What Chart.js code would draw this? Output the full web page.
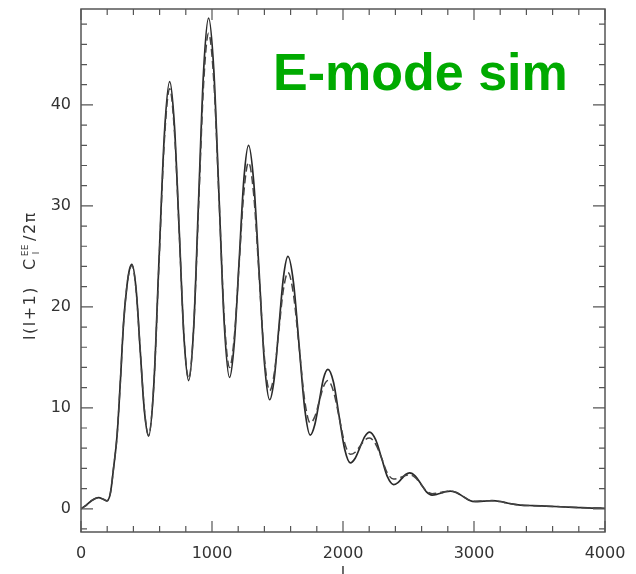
<!DOCTYPE html>
<html>
<head>
<meta charset="utf-8">
<script src="https://cdn.jsdelivr.net/npm/chart.js@4.4.1/dist/chart.umd.min.js"></script>
<style>
  html, body { margin: 0; padding: 0; background: #fff; }
  #wrap { width: 636px; height: 574px; }
</style>
</head>
<body>
<div id="wrap"><canvas id="eeChart" width="636" height="574"></canvas></div>
<script>
// multipoles
const ells = [
    0, 40, 80, 134, 170, 198, 225, 250, 275, 300, 325, 350, 370, 389,
    421, 452, 484, 516,
    556, 596, 637, 677,
    713, 750, 786, 822,
    860, 898, 936, 974,
    1014, 1054, 1094, 1134,
    1170, 1207, 1243, 1279,
    1319, 1360, 1400, 1440,
    1475, 1510, 1545, 1580,
    1622, 1665, 1708, 1750,
    1784, 1818, 1851, 1885,
    1928, 1970, 2013, 2056,
    2093, 2130, 2166, 2203,
    2249, 2295, 2340, 2386,
    2417, 2448, 2478, 2509,
    2552, 2595, 2637, 2680,
    2715, 2750, 2784, 2819,
    2867, 2915, 2962, 3010,
    3073, 3137, 3200, 3260, 3353, 3450, 3550, 3660, 3800, 3900, 4000
];

// solid curve (theory)
const theoryEE = [
    0, 0.35, 0.8, 1.1, 0.95, 0.78, 1.6, 4.2, 7.2, 12.5, 18.4, 22.0, 23.7, 24.2,
    21.7, 15.7, 9.7, 7.2,
    12.3, 24.8, 37.2, 42.3,
    38.0, 27.5, 17.0, 12.7,
    17.9, 30.7, 43.4, 48.6,
    43.4, 30.8, 18.2, 13.0,
    16.4, 24.5, 32.6, 36.0,
    32.3, 23.4, 14.5, 10.8,
    12.9, 17.9, 22.9, 25.0,
    22.4, 16.2, 9.9, 7.3,
    8.3, 10.6, 12.9, 13.8,
    12.5, 9.2, 5.9, 4.55,
    5.0, 6.1, 7.15, 7.6,
    6.85, 5.0, 3.15, 2.4,
    2.57, 2.98, 3.39, 3.56,
    3.24, 2.46, 1.68, 1.36,
    1.42, 1.56, 1.69, 1.75,
    1.6, 1.23, 0.85, 0.7,
    0.75, 0.8, 0.72, 0.55, 0.37, 0.31, 0.26, 0.2, 0.12, 0.07, 0.05
];

// dashed curve (simulation)
const simEE = [
    0, 0.35, 0.8, 1.1, 0.95, 0.78, 1.6, 4.2, 7.2, 12.5, 18.4, 22.0, 23.6, 24.1,
    21.6, 15.7, 9.8, 7.3,
    12.3, 24.5, 36.6, 41.6,
    37.4, 27.3, 17.1, 12.9,
    17.9, 30.0, 42.1, 47.1,
    42.3, 30.6, 18.8, 14.0,
    17.0, 24.2, 31.3, 34.3,
    31.0, 23.0, 15.0, 11.7,
    13.4, 17.6, 21.7, 23.4,
    21.2, 16.0, 10.7, 8.5,
    9.1, 10.6, 12.1, 12.7,
    11.6, 9.1, 6.5, 5.4,
    5.6, 6.2, 6.8, 7.0,
    6.4, 5.0, 3.5, 2.95,
    3.0, 3.15, 3.3, 3.35,
    3.08, 2.43, 1.77, 1.5,
    1.54, 1.63, 1.71, 1.75,
    1.6, 1.23, 0.87, 0.75,
    0.78, 0.8, 0.72, 0.55, 0.37, 0.31, 0.26, 0.2, 0.12, 0.07, 0.05
];

const xTicks = [0, 1000, 2000, 3000, 4000];
const yTicks = [0, 10, 20, 30, 40];

const labelFont = { family: 'DejaVu Sans', size: 16 };
const inkColor = '#333';

// frame with inward ticks on all four sides, plus the titles
const framePlugin = {
    id: 'framePlugin',
    afterDraw(chart) {
        const { ctx, chartArea: a, scales: { x, y } } = chart;
        ctx.save();
        ctx.strokeStyle = '#555';
        ctx.lineWidth = 1.5;
        ctx.strokeRect(a.left, a.top, a.right - a.left, a.bottom - a.top);

        ctx.lineWidth = 1.2;
        ctx.beginPath();
        for (let v = 0; v <= 4000; v += 200) {
            const px = x.getPixelForValue(v);
            const len = v % 1000 === 0 ? 11 : 6;
            ctx.moveTo(px, a.bottom); ctx.lineTo(px, a.bottom - len);
            ctx.moveTo(px, a.top); ctx.lineTo(px, a.top + len);
        }
        for (let v = -2; v <= 48; v += 2) {
            const py = y.getPixelForValue(v);
            const len = v % 10 === 0 ? 12 : 6;
            ctx.moveTo(a.left, py); ctx.lineTo(a.left + len, py);
            ctx.moveTo(a.right, py); ctx.lineTo(a.right - len, py);
        }
        ctx.stroke();

        // x title
        ctx.fillStyle = inkColor;
        ctx.font = '16px "DejaVu Sans"';
        ctx.textAlign = 'center';
        ctx.textBaseline = 'top';
        ctx.fillText('l', (a.left + a.right) / 2, 566);

        // y title: l(l+1) C_l^EE / 2pi, rotated
        ctx.save();
        ctx.translate(35, 340);
        ctx.rotate(-Math.PI / 2);
        ctx.textAlign = 'left';
        ctx.textBaseline = 'alphabetic';
        if ('letterSpacing' in ctx) ctx.letterSpacing = '1.5px';
        ctx.font = '16px "DejaVu Sans"';
        let cx = 0;
        ctx.fillText('l(l+1)', cx, 0);
        cx += ctx.measureText('l(l+1)').width + 16;
        ctx.fillText('C', cx, 0);
        cx += ctx.measureText('C').width + 1;
        ctx.font = '9px "DejaVu Sans"';
        if ('letterSpacing' in ctx) ctx.letterSpacing = '0.5px';
        ctx.fillText('EE', cx, -7);
        ctx.fillText('l', cx + 2, 4);
        cx += ctx.measureText('EE').width + 3;
        ctx.font = '16px "DejaVu Sans"';
        if ('letterSpacing' in ctx) ctx.letterSpacing = '1.5px';
        ctx.fillText('/2\u03C0', cx, 0);
        ctx.restore();

        // big green label
        ctx.fillStyle = '#00aa00';
        ctx.font = 'bold 52px "Liberation Sans", Arial, sans-serif';
        ctx.textAlign = 'left';
        ctx.textBaseline = 'alphabetic';
        ctx.fillText('E-mode sim', 273, 90);
        ctx.restore();
    }
};

const ctx = document.getElementById('eeChart').getContext('2d');
const eeChart = new Chart(ctx, {
    type: 'line',
    data: {
        datasets: [{
            label: 'sim',
            data: ells.map((l, i) => ({ x: l, y: simEE[i] })),
            borderColor: '#444',
            borderWidth: 1.5,
            borderDash: [8, 4],
            pointRadius: 0,
            fill: false,
            cubicInterpolationMode: 'monotone'
        }, {
            label: 'theory',
            data: ells.map((l, i) => ({ x: l, y: theoryEE[i] })),
            borderColor: '#2a2a2a',
            borderWidth: 1.7,
            pointRadius: 0,
            fill: false,
            cubicInterpolationMode: 'monotone'
        }]
    },
    options: {
        responsive: false,
        animation: false,
        layout: { padding: { top: 9, right: 31, left: 0, bottom: 0 } },
        plugins: { legend: { display: false }, tooltip: { enabled: false } },
        scales: {
            x: {
                type: 'linear',
                min: 0,
                max: 4000,
                grid: { display: false, drawTicks: false },
                border: { display: false },
                afterBuildTicks: (s) => { s.ticks = xTicks.map(v => ({ value: v })); },
                afterFit: (s) => { s.height = 42; s.paddingLeft = 0; s.paddingRight = 0; },
                ticks: {
                    padding: 12,
                    maxRotation: 0,
                    color: inkColor,
                    font: labelFont,
                    callback: (v) => String(v)
                }
            },
            y: {
                min: -2.3,
                max: 49.5,
                grid: { display: false, drawTicks: false },
                border: { display: false },
                afterBuildTicks: (s) => { s.ticks = yTicks.map(v => ({ value: v })); },
                afterFit: (s) => { s.width = 81; s.paddingTop = 0; s.paddingBottom = 0; },
                ticks: {
                    padding: 10,
                    color: inkColor,
                    font: labelFont,
                    callback: (v) => String(v)
                }
            }
        }
    },
    plugins: [framePlugin]
});
</script>
</body>
</html>
